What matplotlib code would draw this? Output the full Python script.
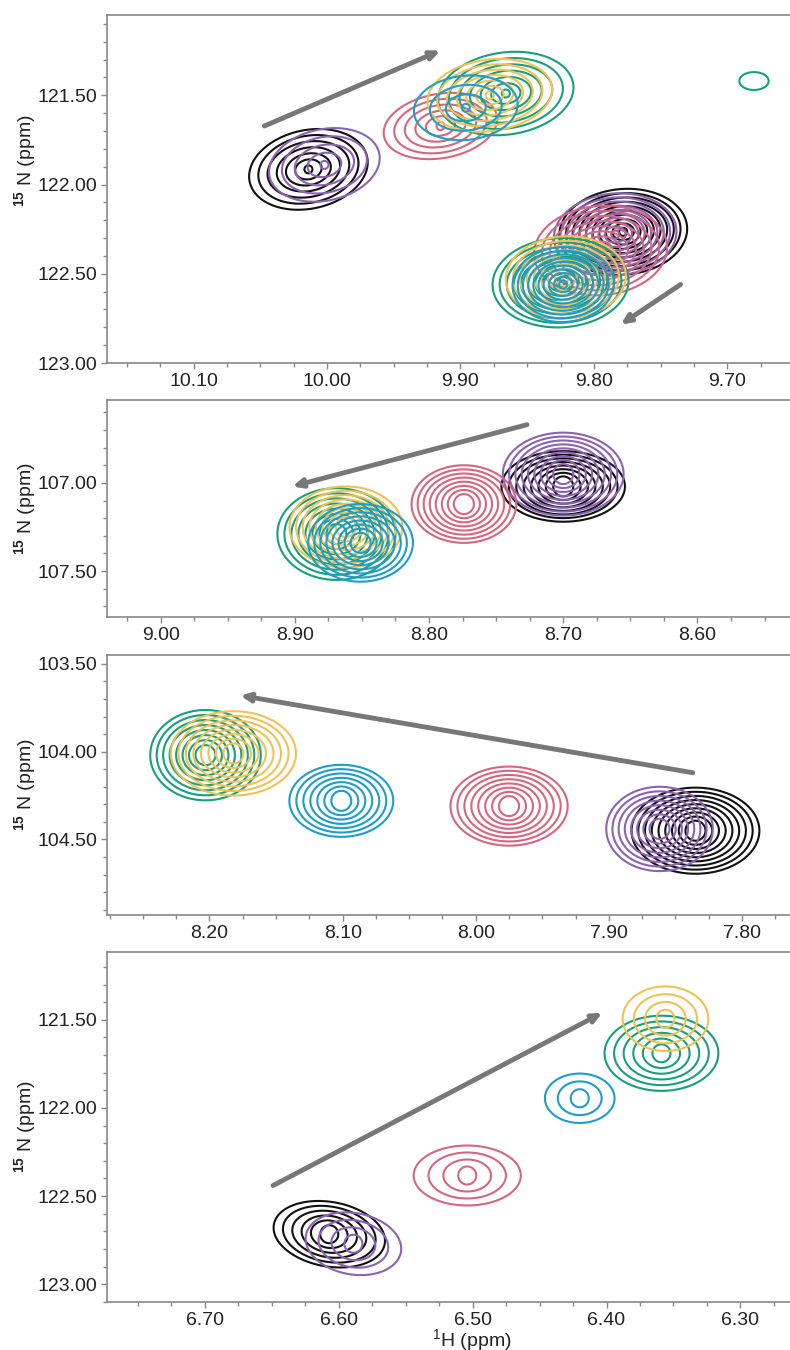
import numpy as np
import matplotlib.pyplot as plt
from matplotlib.ticker import MultipleLocator, FormatStrFormatter

plt.rcParams['font.family'] = ['Liberation Sans', 'DejaVu Sans']
plt.rcParams['mathtext.fontset'] = 'custom'
plt.rcParams['mathtext.rm'] = 'Liberation Sans'
plt.rcParams['mathtext.bf'] = 'Liberation Sans:bold'

#colours of the titration points
COL = {'k': '#111111', 'v': '#8b63b2', 'r': '#d6667f',
       'g': '#17a07a', 'y': '#f2c154', 'b': '#1e9dc9'}

#panel 1 peaks (two residues + a weak one)
p1_col = ['k', 'k', 'v', 'v', 'r', 'r', 'g', 'g', 'g', 'y', 'y', 'b', 'b']
p1_h = [10.014, 9.778, 10.002, 9.784, 9.915, 9.795, 9.866, 9.825, 9.680, 9.878, 9.821, 9.896, 9.823]
p1_n = [121.915, 122.265, 121.89, 122.28, 121.672, 122.37, 121.49, 122.55, 121.42, 121.50, 122.52, 121.57, 122.56]
p1_wh = [0.045, 0.048, 0.042, 0.046, 0.043, 0.050, 0.051, 0.051, 0.011, 0.047, 0.045, 0.039, 0.038]
p1_wn = [0.22, 0.24, 0.20, 0.23, 0.18, 0.25, 0.23, 0.25, 0.05, 0.20, 0.23, 0.18, 0.21]
p1_nlev = [7, 10, 5, 10, 6, 9, 7, 10, 1, 7, 9, 4, 10]
p1_tilt = [12, 5, 12, 5, 10, 5, 8, 3, 0, 8, 3, 6, 3]
p1_arrows = [((10.047, 121.672), (9.915, 121.249)), ((9.735, 122.56), (9.780, 122.785))]

#panel 2 peaks
p2_col = ['k', 'v', 'r', 'g', 'y', 'b']
p2_h = [8.700, 8.700, 8.774, 8.869, 8.862, 8.851]
p2_n = [107.02, 106.95, 107.12, 107.29, 107.25, 107.34]
p2_wh = [0.046, 0.045, 0.039, 0.044, 0.042, 0.039]
p2_wn = [0.20, 0.235, 0.22, 0.26, 0.23, 0.22]
p2_nlev = [8, 9, 8, 8, 8, 8]
p2_tilt = [0, 0, 0, 0, 0, 0]
p2_arrows = [((8.727, 106.67), (8.902, 107.02))]

#panel 3 peaks
p3_col = ['k', 'v', 'r', 'g', 'y', 'b']
p3_h = [7.835, 7.862, 7.975, 8.203, 8.182, 8.101]
p3_n = [104.45, 104.44, 104.31, 104.02, 104.01, 104.28]
p3_wh = [0.048, 0.040, 0.044, 0.0415, 0.047, 0.039]
p3_wn = [0.245, 0.24, 0.225, 0.257, 0.24, 0.205]
p3_nlev = [9, 8, 8, 8, 8, 7]
p3_tilt = [0, 0, 0, 0, 0, 0]
p3_arrows = [((7.837, 104.12), (8.177, 103.68))]

#panel 4 peaks
p4_col = ['k', 'v', 'r', 'g', 'y', 'b']
p4_h = [6.607, 6.589, 6.504, 6.359, 6.356, 6.420]
p4_n = [122.716, 122.77, 122.383, 121.69, 121.494, 121.945]
p4_wh = [0.042, 0.036, 0.040, 0.0425, 0.032, 0.026]
p4_wn = [0.183, 0.174, 0.17, 0.213, 0.183, 0.14]
p4_nlev = [6, 4, 4, 6, 4, 3]
p4_tilt = [-10, -10, 0, 0, 0, 0]
p4_arrows = [((6.649, 122.44), (6.403, 121.46))]

#axis ranges (ppm), x and y reversed
lims = [((10.165, 9.653), (123.0, 121.05)),
        ((9.04, 8.531), (107.76, 106.53)),
        ((8.277, 7.764), (104.93, 103.45)),
        ((6.773, 6.263), (123.10, 121.115))]

#axes boxes in figure fractions
boxes = [[0.1354, 0.7311, 0.8646, 0.2578],
         [0.1354, 0.5430, 0.8646, 0.1607],
         [0.1354, 0.3222, 0.8646, 0.1926],
         [0.1354, 0.0356, 0.8646, 0.2593]]

#radius (px) of the innermost contour ring
ring_core = [4.0, 10.0, 10.0, 9.0]

panels = [(p1_col, p1_h, p1_n, p1_wh, p1_wn, p1_nlev, p1_tilt, p1_arrows),
          (p2_col, p2_h, p2_n, p2_wh, p2_wn, p2_nlev, p2_tilt, p2_arrows),
          (p3_col, p3_h, p3_n, p3_wh, p3_wn, p3_nlev, p3_tilt, p3_arrows),
          (p4_col, p4_h, p4_n, p4_wh, p4_wn, p4_nlev, p4_tilt, p4_arrows)]

W, Hpx = 790, 1350
fig = plt.figure(figsize=(W / 100, Hpx / 100), dpi=100)

for i, (box, (xl, yl), pan) in enumerate(zip(boxes, lims, panels)):
    cols, hs, ns, whs, wns, nlevs, tilts, arrows = pan
    ax = fig.add_axes(box)
    kx = box[2] * W / abs(xl[0] - xl[1])     # px per ppm
    ky = box[3] * Hpx / abs(yl[0] - yl[1])
    r0 = ring_core[i]
    for c, h, n, wh, wn, k, t in zip(cols, hs, ns, whs, wns, nlevs, tilts):
        hh, nn = np.meshgrid(np.linspace(h - 1.3 * wh, h + 1.3 * wh, 260),
                             np.linspace(n - 1.3 * wn, n + 1.3 * wn, 260))
        X = (h - hh) * kx
        Y = (n - nn) * ky
        th = np.radians(t)
        Xr = X * np.cos(th) + Y * np.sin(th)
        Yr = -X * np.sin(th) + Y * np.cos(th)
        a, b = wh * kx, wn * ky
        # rings shrink from the outer ellipse to a small round core
        f = np.linspace(0, 1, k) if k > 1 else np.array([0.0])
        for fj in f:
            ra = a + (r0 - a) * fj
            rb = b + (r0 - b) * fj
            ax.contour(hh, nn, (Xr / ra)**2 + (Yr / rb)**2, levels=[1.0],
                       colors=COL[c], linewidths=1.5)
    for (x0, y0), (x1, y1) in arrows:
        ax.annotate('', xy=(x1, y1), xytext=(x0, y0),
                    arrowprops=dict(arrowstyle='->,head_length=0.55,head_width=0.25',
                                    color='#777777', lw=3.5, shrinkA=0, shrinkB=0))
    ax.set_xlim(xl)
    ax.set_ylim(yl)
    ax.xaxis.set_major_locator(MultipleLocator(0.1))
    ax.xaxis.set_minor_locator(MultipleLocator(0.025))
    ax.yaxis.set_major_locator(MultipleLocator(0.5))
    ax.yaxis.set_minor_locator(MultipleLocator(0.1))
    ax.xaxis.set_major_formatter(FormatStrFormatter('%.2f'))
    ax.yaxis.set_major_formatter(FormatStrFormatter('%.2f'))
    ax.tick_params(which='both', direction='out', color='#888888', width=1,
                   labelsize=14, labelcolor='#222222', pad=3)
    ax.tick_params(which='major', length=4)
    ax.tick_params(which='minor', length=3)
    ax.tick_params(top=False, right=False)
    ax.spines['right'].set_visible(False)
    for sp in ['left', 'bottom', 'top']:
        ax.spines[sp].set_color('#888888')
        ax.spines[sp].set_linewidth(1.2)
    ax.set_ylabel(r'$^{\mathbf{15}}$ N (ppm)', fontsize=14, color='#222222')
    ax.yaxis.set_label_coords(-0.10, 0.58 if i == 0 else 0.5)

ax.set_xlabel(r'$^{1}$H (ppm)', fontsize=14, color='#222222')
ax.xaxis.set_label_coords(0.534, -0.072)

fig.savefig('out.png', dpi=100)
